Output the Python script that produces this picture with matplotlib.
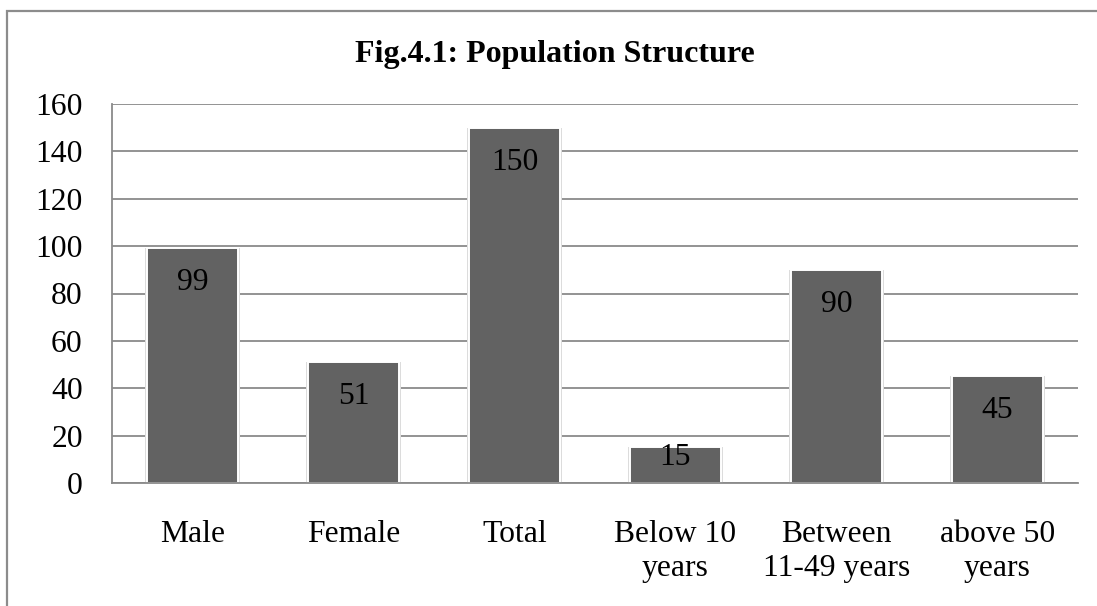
import matplotlib
matplotlib.use("Agg")
import matplotlib.pyplot as plt
from matplotlib.patches import Rectangle

categories = ["Male", "Female", "Total", "Below 10\nyears", "Between\n11-49 years", "above 50\nyears"]
values = [99, 51, 150, 15, 90, 45]
yticks = [0, 20, 40, 60, 80, 100, 120, 140, 160]
title = "Fig.4.1: Population Structure"

plt.rcParams["font.family"] = ["Liberation Serif", "DejaVu Serif"]

W, H, DPI = 1097, 606, 100
FS = 22.8
fig = plt.figure(figsize=(W / DPI, H / DPI), dpi=DPI)
fig.patch.set_facecolor("white")

# outer chart frame (continues past the right and bottom edges)
frame = Rectangle((7 / W, -0.05), 1.1, 1 - 11 / H + 0.05, transform=fig.transFigure,
                  fill=False, edgecolor="#8c8c8c", linewidth=1.6, zorder=0)
fig.patches.append(frame)

left, right, bottom, top = 112 / W, 1078 / W, 1 - 483 / H, 1 - 104 / H
ax = fig.add_axes([left, bottom, right - left, top - bottom])

x = list(range(len(categories)))
bar_color = "#626262"
bw = 0.56

# soft shadow behind bars
ax.bar(x, values, width=bw + 0.035, color="#dcdcdc", edgecolor="none", zorder=2)
bars = ax.bar(x, values, width=bw, color=bar_color, edgecolor="white", linewidth=1.4, zorder=3)

ax.set_xlim(-0.5, len(categories) - 0.5)
ax.set_ylim(0, 160)
ax.set_yticks(yticks)
ax.set_yticklabels([str(t) for t in yticks])
ax.set_xticks(x)
ax.set_xticklabels(categories, linespacing=1.25)

ax.yaxis.grid(True, color="#8a8a8a", linewidth=1.3, zorder=1)
ax.set_axisbelow(True)
for s in ["top", "right"]:
    ax.spines[s].set_visible(False)
for s in ["left", "bottom"]:
    ax.spines[s].set_color("#8a8a8a")
    ax.spines[s].set_linewidth(1.3)
    ax.spines[s].set_zorder(4)

ax.tick_params(axis="both", length=0, labelsize=FS, colors="black")
ax.tick_params(axis="y", pad=21)
ax.tick_params(axis="x", pad=26.5)

# value labels just inside the top of each bar
fig.canvas.draw()
px_per_unit = ax.transData.transform((0, 1))[1] - ax.transData.transform((0, 0))[1]
for xi, v in zip(x, values):
    bar_px = v * px_per_unit
    off_px = min(42.0, bar_px - 18.0)
    ax.annotate(str(v), xy=(xi, v), xytext=(0, -off_px * 72 / DPI),
                textcoords="offset points", ha="center", va="baseline",
                fontsize=FS, color="black", zorder=5)

fig.text(555 / W, 1 - 62 / H, title, ha="center", va="baseline",
         fontsize=23, fontweight="bold")

fig.savefig("out.png", dpi=DPI, facecolor="white")
